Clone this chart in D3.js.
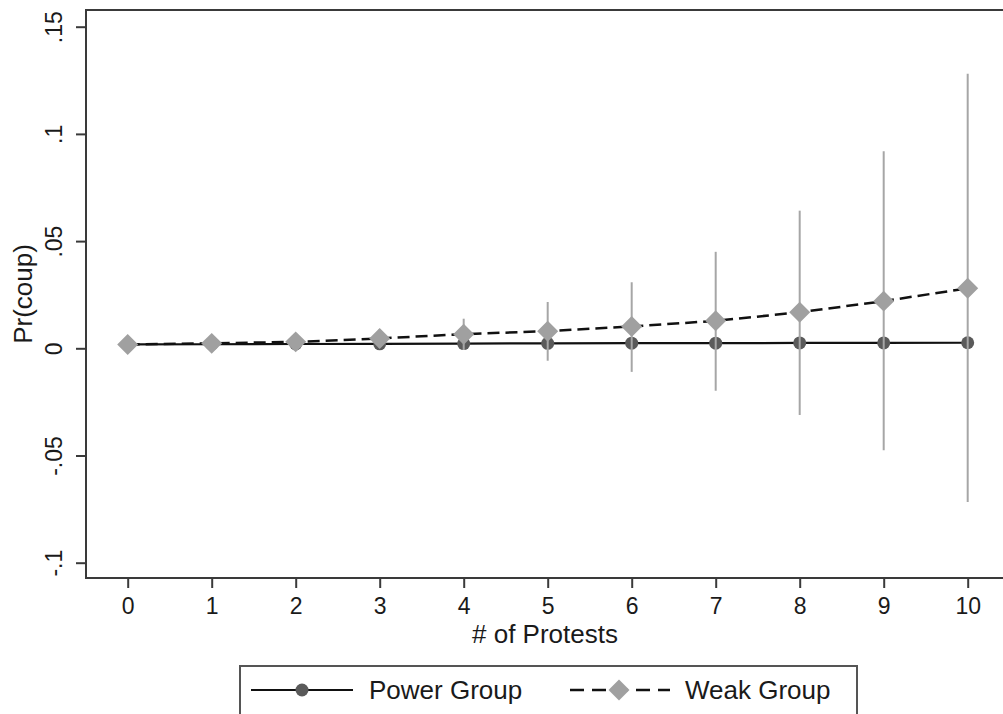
<!DOCTYPE html>
<html>
<head>
<meta charset="utf-8">
<script src="https://cdn.jsdelivr.net/npm/d3@7"></script>
<style>
  html, body { margin: 0; padding: 0; background: #fff; }
  svg { display: block; font-family: "Liberation Sans", Arial, Helvetica, sans-serif; }
</style>
</head>
<body>
<svg id="chart" width="1003" height="714"></svg>
<script>
// ---- data ----
const protests = [0, 1, 2, 3, 4, 5, 6, 7, 8, 9, 10];
const powerGroup = [0.0018, 0.0019, 0.0020, 0.0021, 0.0022, 0.0023, 0.0024, 0.0024, 0.0025, 0.0025, 0.0026];
const weakGroup = [0.0018, 0.0023, 0.0030, 0.0046, 0.0066, 0.0080, 0.0102, 0.0128, 0.0168, 0.0220, 0.0280];
const weakLower = [0.0010, 0.0012, 0.0008, 0.0002, -0.0008, -0.0058, -0.0110, -0.0198, -0.0311, -0.0475, -0.0717];
const weakUpper = [0.0026, 0.0034, 0.0052, 0.0090, 0.0138, 0.0216, 0.0308, 0.0450, 0.0642, 0.0919, 0.1280];
const yTicks = [-0.1, -0.05, 0, 0.05, 0.1, 0.15];
const yTickLabels = ["-.1", "-.05", "0", ".05", ".1", ".15"];
const xTicks = [0, 1, 2, 3, 4, 5, 6, 7, 8, 9, 10];
const xTitle = "# of Protests";
const yTitle = "Pr(coup)";
const legendLabels = ["Power Group", "Weak Group"];

// ---- layout ----
const svg = d3.select("#chart");
const plot = { left: 86, top: 10, right: 1004, bottom: 578 };

const x = d3.scaleLinear().domain([0, 10]).range([127.7, 967.7]);
const y = d3.scaleLinear().domain([-0.1, 0.15]).range([562.7, 26.7]);

const axisColor = "#3a3a3a";
const textColor = "#1a1a1a";

// plot region box
svg.append("rect")
  .attr("x", plot.left).attr("y", plot.top)
  .attr("width", plot.right - plot.left).attr("height", plot.bottom - plot.top)
  .attr("fill", "#fff").attr("stroke", axisColor).attr("stroke-width", 2);

// y axis
const yAxis = svg.append("g")
  .attr("transform", `translate(${plot.left},0)`)
  .call(d3.axisLeft(y).tickValues(yTicks).tickSize(10).tickPadding(0)
    .tickFormat((d, i) => yTickLabels[i]));
yAxis.select(".domain").remove();
yAxis.selectAll(".tick line").attr("stroke", axisColor).attr("stroke-width", 2);
yAxis.selectAll(".tick text")
  .attr("x", null).attr("dy", null)
  .attr("transform", "translate(-24,0) rotate(-90)")
  .attr("text-anchor", "middle")
  .attr("fill", textColor)
  .style("font-size", "23px");

// x axis
const xAxis = svg.append("g")
  .attr("transform", `translate(0,${plot.bottom})`)
  .call(d3.axisBottom(x).tickValues(xTicks).tickSize(10).tickPadding(0)
    .tickFormat(d3.format("d")));
xAxis.select(".domain").remove();
xAxis.selectAll(".tick line").attr("stroke", axisColor).attr("stroke-width", 2);
xAxis.selectAll(".tick text")
  .attr("y", 36).attr("dy", null)
  .attr("fill", textColor)
  .style("font-size", "23px");

// axis titles
svg.append("text")
  .attr("x", (plot.left + plot.right) / 2).attr("y", 643)
  .attr("text-anchor", "middle").attr("fill", textColor)
  .style("font-size", "26px").text(xTitle);
svg.append("text")
  .attr("transform", `translate(32,${(plot.top + plot.bottom) / 2}) rotate(-90)`)
  .attr("text-anchor", "middle").attr("fill", textColor)
  .style("font-size", "26px").text(yTitle);

const pts = protests.map((p, i) => ({ p, pw: powerGroup[i], wk: weakGroup[i], lo: weakLower[i], hi: weakUpper[i] }));

const diamond = d3.symbol().type(d3.symbolSquare).size(220);

// power group line
svg.append("path")
  .datum(pts)
  .attr("fill", "none").attr("stroke", "#111").attr("stroke-width", 2.2)
  .attr("d", d3.line().x(d => x(d.p)).y(d => y(d.pw)));

svg.append("g").selectAll("circle").data(pts).join("circle")
  .attr("cx", d => x(d.p)).attr("cy", d => y(d.pw)).attr("r", 6.5)
  .attr("fill", "#5a5a5a");

// weak group dashed line
svg.append("path")
  .datum(pts)
  .attr("fill", "none").attr("stroke", "#111").attr("stroke-width", 2.5)
  .attr("stroke-dasharray", "12,6")
  .attr("d", d3.line().x(d => x(d.p)).y(d => y(d.wk)));

// confidence intervals
svg.append("g").selectAll("line").data(pts).join("line")
  .attr("x1", d => x(d.p)).attr("x2", d => x(d.p))
  .attr("y1", d => y(d.lo)).attr("y2", d => y(d.hi))
  .attr("stroke", "#a6a6a6").attr("stroke-width", 2);

// weak group diamonds
svg.append("g").selectAll("path").data(pts).join("path")
  .attr("d", diamond)
  .attr("transform", d => `translate(${x(d.p)},${y(d.wk)}) rotate(45)`)
  .attr("fill", "#a0a0a0");

// legend
const lg = svg.append("g");
lg.append("rect")
  .attr("x", 240).attr("y", 666).attr("width", 617).attr("height", 60)
  .attr("fill", "#fff").attr("stroke", "#555").attr("stroke-width", 2);
const ly = 690;
lg.append("line").attr("x1", 251).attr("x2", 353).attr("y1", ly).attr("y2", ly)
  .attr("stroke", "#111").attr("stroke-width", 2.2);
lg.append("circle").attr("cx", 302).attr("cy", ly).attr("r", 6.5).attr("fill", "#5a5a5a");
lg.append("text").attr("x", 369).attr("y", ly + 9).attr("fill", textColor)
  .style("font-size", "26px").text(legendLabels[0]);
lg.append("line").attr("x1", 570).attr("x2", 670).attr("y1", ly).attr("y2", ly)
  .attr("stroke", "#111").attr("stroke-width", 2.5).attr("stroke-dasharray", "14,8");
lg.append("path").attr("d", diamond)
  .attr("transform", `translate(619,${ly}) rotate(45)`).attr("fill", "#a0a0a0");
lg.append("text").attr("x", 685).attr("y", ly + 9).attr("fill", textColor)
  .style("font-size", "26px").text(legendLabels[1]);
</script>
</body>
</html>
